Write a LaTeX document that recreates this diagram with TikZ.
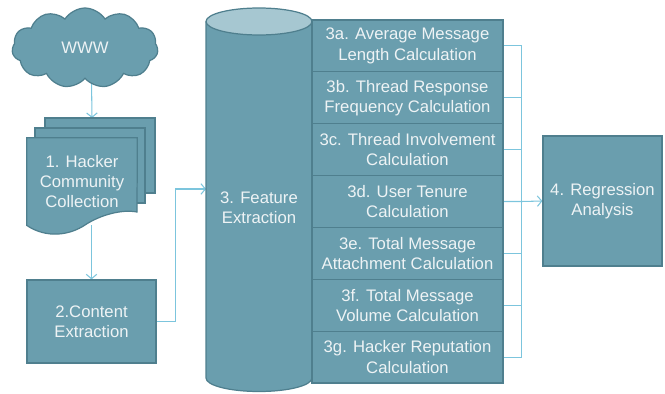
\documentclass[tikz,border=0pt]{standalone}
\usepackage{fontspec}
\setmainfont{Liberation Sans}
\usetikzlibrary{shapes.symbols,arrows.meta}
\pgfdeclarelayer{edgelayer}
\pgfdeclarelayer{nodelayer}
\pgfsetlayers{edgelayer,nodelayer,main}
\definecolor{boxfill}{HTML}{6A9EAE}
\definecolor{boxline}{HTML}{4F7F8E}
\definecolor{boxtop}{HTML}{A6C7D1}
\definecolor{boxtext}{HTML}{EEF3F5}
\definecolor{wire}{HTML}{7CC5DD}
\tikzset{font=\fontsize{9.5}{11.5}\selectfont}
\tikzstyle{none}=[inner sep=0pt]
\tikzstyle{box}=[draw=boxline,fill=boxfill,text=boxtext,align=center,inner sep=0pt,line width=0.7pt]
\tikzstyle{label}=[inner sep=0pt,text=boxtext,align=center]
\tikzstyle{calc}=[box,minimum width=3.82cm,minimum height=1.037cm]
\tikzstyle{wire}=[draw=wire,line width=0.6pt]
\tikzstyle{arr}=[wire,-{Straight Barb[length=2.5pt,width=6pt]}]

\begin{document}
\begin{tikzpicture}[x=0.02cm,y=0.02cm]
	\useasboundingbox (0,0) rectangle (665,393);
	\begin{pgfonlayer}{nodelayer}
		\node [style=box,cloud,cloud puffs=11,cloud puff arc=115,aspect=1.9,minimum width=2.92cm,minimum height=1.6cm] (0) at (85,345) {WWW};
		\node [style=label,minimum width=2.2cm,minimum height=1.74cm] (1) at (82,211.5) {1. Hacker\\Community\\Collection};
		\node [style=box,minimum width=2.58cm,minimum height=1.66cm] (2) at (91.5,71.5) {2.Content\\Extraction};
		\node [style=label] (3) at (259,185) {3. Feature\\Extraction};
		\coordinate (3in) at (206,204);
		\node [style=calc] (4) at (407.5,347.1) {3a. Average Message\\Length Calculation};
		\node [style=calc] (5) at (407.5,295.2) {3b. Thread Response\\Frequency Calculation};
		\node [style=calc] (6) at (407.5,243.4) {3c. Thread Involvement\\Calculation};
		\node [style=calc] (7) at (407.5,191.5) {3d. User Tenure\\Calculation};
		\node [style=calc] (8) at (407.5,139.7) {3e. Total Message\\Attachment Calculation};
		\node [style=calc] (9) at (407.5,87.8) {3f. Total Message\\Volume Calculation};
		\node [style=calc] (10) at (407.5,35.9) {3g. Hacker Reputation\\Calculation};
		\node [style=box,minimum width=2.38cm,minimum height=2.6cm] (11) at (602.5,192) {4. Regression\\Analysis};
	\end{pgfonlayer}
	\begin{pgfonlayer}{edgelayer}
		\draw [style=arr] (0.south -| 2.north) -- (92,275);
		\draw [style=arr] (2.north |- 1.south) -- (2.north);
		\draw [style=arr] (2.east) -- ++(19,0) |- (3in);
		\draw [style=wire] (4.east) -- ++(18,0) |- (10.east);
		\draw [style=wire] (5.east) -- ++(18,0);
		\draw [style=wire] (6.east) -- ++(18,0);
		\draw [style=wire] (8.east) -- ++(18,0);
		\draw [style=wire] (9.east) -- ++(18,0);
		\draw [style=arr] (7.east) -- ++(18,0) -- (11.west);
		% stacked pages
		\path [style=box] (45,200) rectangle (155,275);
		\path [style=box] (35,190) rectangle (145,265);
		\path [style=box] (1.north west) -- (1.south west)
			.. controls (47,154) and (70,158) .. (85,168)
			.. controls (100,178) and (122,184) .. (137,181) -- (1.north east) -- cycle;
		% drum
		\path [style=box] (206,371.5) -- (206,15)
			arc [start angle=180,end angle=360,x radius=1.06cm,y radius=0.27cm] -- (312,371.5);
		\path [style=box,fill=boxtop] (259,371.5) ellipse [x radius=1.06cm,y radius=0.27cm];
	\end{pgfonlayer}
\end{tikzpicture}
\end{document}
